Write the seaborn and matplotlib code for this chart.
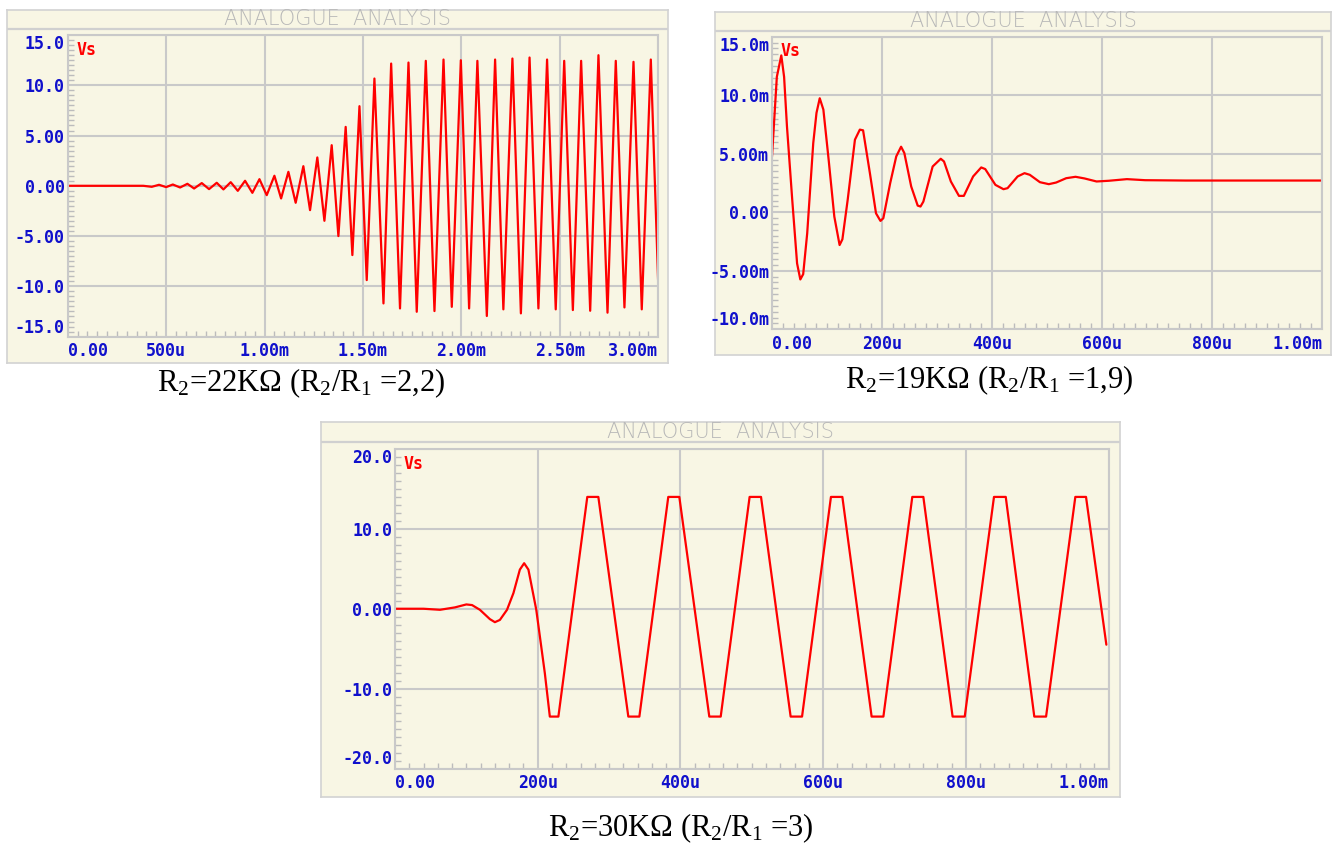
import numpy as np
import pandas as pd
import matplotlib
matplotlib.use('Agg')
import matplotlib.pyplot as plt
from matplotlib.ticker import MultipleLocator
import seaborn as sns

# ---- data ----
# panel 1: R2=22K, time in us, Vs in V (peaks/troughs)
t1_us = [0, 384, 427, 464, 500, 534, 571, 608, 642, 681, 718, 757, 791, 828, 864, 901,
         938, 974, 1011, 1050, 1084, 1121, 1158, 1197, 1231, 1268, 1304, 1341, 1375, 1412,
         1446, 1482, 1519, 1558, 1604, 1643, 1688, 1731, 1773, 1819, 1863, 1909, 1951, 1997,
         2039, 2081, 2129, 2171, 2213, 2259, 2302, 2346, 2391, 2435, 2479, 2522, 2566, 2608,
         2654, 2696, 2742, 2784, 2828, 2874, 2916, 2962, 3000]
vs1 = [0, 0, -0.10, 0.10, -0.13, 0.13, -0.17, 0.20, -0.27, 0.27, -0.33, 0.30, -0.36, 0.36,
       -0.50, 0.50, -0.70, 0.66, -0.93, 1.00, -1.26, 1.39, -1.69, 1.95, -2.42, 2.82, -3.48,
       4.04, -5.00, 5.86, -6.89, 7.92, -9.38, 10.67, -11.70, 12.16, -12.20, 12.26, -12.53,
       12.43, -12.46, 12.56, -12.04, 12.49, -12.20, 12.43, -12.95, 12.56, -12.29, 12.66,
       -12.69, 12.76, -12.20, 12.56, -12.29, 12.43, -12.36, 12.43, -12.43, 12.99, -12.62,
       12.43, -12.10, 12.33, -12.29, 12.56, -10.0]

# panel 2: R2=19K, time in us, Vs in mV
t2_us = [0, 8.8, 16.9, 22, 27.2, 36.8, 45.6, 51.5, 56.7, 64, 75, 80.9, 86.8, 93.4, 103,
         113.3, 122.9, 128, 137.6, 150.8, 159.7, 165.6, 178, 189.1, 197.2, 202.4, 214.9,
         225.9, 234.7, 240.6, 253.1, 264.9, 270, 275.2, 292.1, 306.8, 312.7, 325.2, 339.9,
         348.8, 365.7, 380.4, 387.7, 406.2, 420.9, 428.3, 446.6, 459.1, 468.7, 487.1, 503.3,
         516.6, 534.9, 551.9, 568.1, 590.1, 612.2, 645.3, 678.4, 752, 1000]
vs2_mV = [4.77, 11.57, 13.4, 11.57, 7.34, 1.06, -4.37, -5.74, -5.29, -1.8, 5.91, 8.49, 9.74,
          8.77, 4.49, -0.37, -2.8, -2.31, 1.06, 6.2, 7.06, 7.0, 3.34, -0.09, -0.74, -0.51,
          2.49, 4.77, 5.6, 5.06, 2.2, 0.57, 0.49, 0.91, 3.91, 4.57, 4.34, 2.63, 1.4, 1.4,
          3.06, 3.83, 3.69, 2.34, 1.97, 2.06, 3.06, 3.34, 3.2, 2.57, 2.4, 2.54, 2.91, 3.03,
          2.89, 2.63, 2.69, 2.83, 2.74, 2.71, 2.71]

# panel 3: R2=30K, time in us, Vs in V
t3_us = [0, 40, 63, 84, 100, 108, 119, 133, 140, 147, 157, 166, 175, 181, 187, 198, 210,
         217, 229, 269.5, 285, 327, 342.5, 383, 398.5, 440.5, 456.5, 497, 513, 554.5, 570.5,
         611, 627, 668, 684.5, 725, 740.5, 781.5, 798.5, 839.5, 856, 896, 912.5, 953.5,
         968.5, 997]
vs3 = [0, 0, -0.13, 0.17, 0.54, 0.46, -0.13, -1.3, -1.68, -1.4, -0.13, 1.96, 4.9, 5.7, 4.9,
       -0.13, -8.07, -13.5, -13.5, 14.0, 14.0, -13.5, -13.5, 14.0, 14.0, -13.5, -13.5, 14.0,
       14.0, -13.5, -13.5, 14.0, 14.0, -13.5, -13.5, 14.0, 14.0, -13.5, -13.5, 14.0, 14.0,
       -13.5, -13.5, 14.0, 14.0, -4.5]

x1_ticks = [0, 500, 1000, 1500, 2000, 2500, 3000]
x1_labels = ['0.00', '500u', '1.00m', '1.50m', '2.00m', '2.50m', '3.00m']
y1_ticks = [-15, -10, -5, 0, 5, 10, 15]
y1_labels = ['-15.0', '-10.0', '-5.00', '0.00', '5.00', '10.0', '15.0']

x2_ticks = [0, 200, 400, 600, 800, 1000]
x2_labels = ['0.00', '200u', '400u', '600u', '800u', '1.00m']
y2_ticks = [-10, -5, 0, 5, 10, 15]
y2_labels = ['-10.0m', '-5.00m', '0.00', '5.00m', '10.0m', '15.0m']

x3_ticks = [0, 200, 400, 600, 800, 1000]
x3_labels = ['0.00', '200u', '400u', '600u', '800u', '1.00m']
y3_ticks = [-20, -10, 0, 10, 20]
y3_labels = ['-20.0', '-10.0', '0.00', '10.0', '20.0']

captions = ['R$_2$=22KΩ (R$_2$/R$_1$ =2,2)',
            'R$_2$=19KΩ (R$_2$/R$_1$ =1,9)',
            'R$_2$=30KΩ (R$_2$/R$_1$ =3)']

sns.set_style('white')
plt.rcParams['font.family'] = ['DejaVu Sans']
plt.rcParams['mathtext.fontset'] = 'custom'
plt.rcParams['mathtext.rm'] = 'Liberation Serif'
plt.rcParams['mathtext.it'] = 'Liberation Serif:italic'
plt.rcParams['mathtext.bf'] = 'Liberation Serif:bold'

W, H = 1334, 843
CREAM = '#f8f6e4'
GRID = '#c9c9c9'
BLUE = '#1010cc'
RED = '#ff0000'

fig = plt.figure(figsize=(W / 100, H / 100), dpi=100)
fig.patch.set_facecolor('white')


def rect(x0, y0, x1, y1):
    return [x0 / W, 1 - y1 / H, (x1 - x0) / W, (y1 - y0) / H]


def panel(box, plot, line_y, t, v, xlim, ylim, xt, xl, yt, yl, xminor, yminor, caption, cap_xy):
    # outer frame with the title band
    fr = fig.add_axes(rect(*box))
    fr.set_facecolor(CREAM)
    fr.set_xticks([])
    fr.set_yticks([])
    fr.set_xlim(0, 1)
    fr.set_ylim(0, 1)
    for s in fr.spines.values():
        s.set_color('#d2d2d2')
        s.set_linewidth(1.2)
    band = (line_y - box[1]) / (box[3] - box[1])
    fr.axhline(1 - band, color='#d0d0d0', lw=1.6)
    fr.text(0.5, 1 - band / 2, 'ANALOGUE  ANALYSIS', ha='center', va='center',
            fontsize=15, color='#b8b8b8', family='DejaVu Sans', fontweight='light')

    ax = fig.add_axes(rect(*plot))
    ax.set_facecolor(CREAM)
    sns.lineplot(x=t, y=v, ax=ax, color=RED, lw=1.6, sort=False, estimator=None)
    ax.set_xlim(*xlim)
    ax.set_ylim(*ylim)
    ax.set_xlabel('')
    ax.set_ylabel('')
    ax.set_xticks(xt, xl)
    ax.set_yticks(yt, yl)
    ax.xaxis.set_minor_locator(MultipleLocator(xminor))
    ax.yaxis.set_minor_locator(MultipleLocator(yminor))
    ax.grid(True, which='major', color=GRID, lw=1.5)
    ax.set_axisbelow(True)
    ax.tick_params(which='major', length=0, labelcolor=BLUE, labelsize=12)
    ax.tick_params(axis='x', which='major', pad=4)
    ax.tick_params(axis='y', which='major', pad=2)
    ax.tick_params(which='minor', direction='in', length=4, width=1, color='#bcbcbc',
                   bottom=True, left=True, top=False, right=False)
    for s in ax.spines.values():
        s.set_color(GRID)
        s.set_linewidth(1.5)
    for lab in ax.get_xticklabels() + ax.get_yticklabels():
        lab.set_family('DejaVu Sans Mono')
        lab.set_fontweight('bold')
    xls = ax.get_xticklabels()
    xls[0].set_ha('left')
    xls[-1].set_ha('right')
    yls = ax.get_yticklabels()
    yls[0].set_va('bottom')
    yls[-1].set_va('top')
    ax.annotate('Vs', xy=(0, 1), xycoords='axes fraction', xytext=(6, -4),
                textcoords='offset points', ha='left', va='top', color=RED,
                fontsize=12, family='DejaVu Sans Mono', fontweight='bold')

    fig.text(cap_xy[0] / W, 1 - cap_xy[1] / H, caption, ha='center', va='center',
             fontsize=22, family='Liberation Serif', color='black')
    return ax


panel((7, 9.5, 668, 363), (67.7, 35, 658.3, 336.6), 29.3,
      t1_us, vs1, (0, 3000), (-15, 15), x1_ticks, x1_labels, y1_ticks, y1_labels,
      50, 0.5, captions[0], (301, 383))

panel((715, 11.5, 1331, 355), (772, 36.7, 1322, 329.3), 30.7,
      t2_us, vs2_mV, (0, 1000), (-10, 15), x2_ticks, x2_labels, y2_ticks, y2_labels,
      20, 0.5, captions[1], (989, 380))

panel((321, 421.7, 1120, 796.7), (395, 449, 1108.5, 768.5), 441.7,
      t3_us, vs3, (0, 1000), (-20, 20), x3_ticks, x3_labels, y3_ticks, y3_labels,
      20, 1, captions[2], (681, 828))

fig.savefig('out.png', dpi=100, facecolor='white')
